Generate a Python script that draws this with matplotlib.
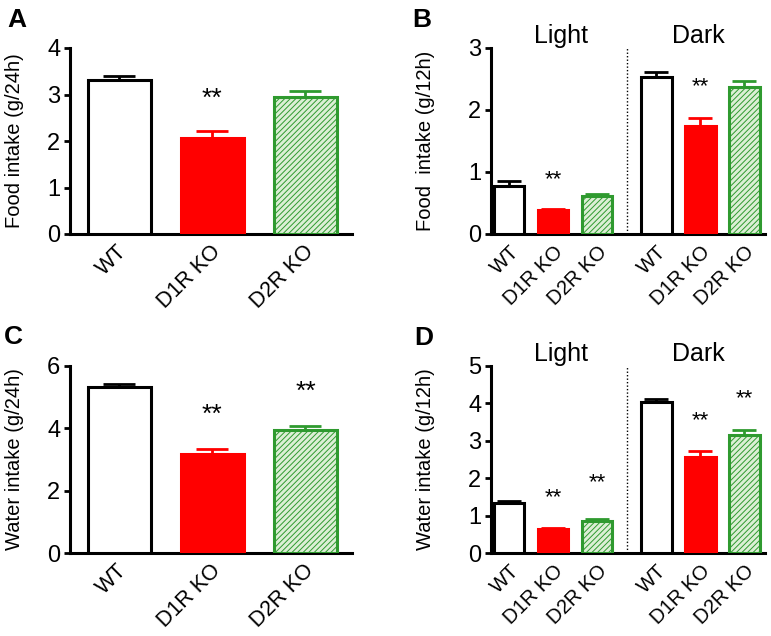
import matplotlib
matplotlib.use("Agg")
import matplotlib.pyplot as plt
import matplotlib.transforms as mtransforms
import numpy as np

plt.rcParams['font.family'] = ['Liberation Sans', 'DejaVu Sans']
plt.rcParams['hatch.linewidth'] = 0.7

# ---------------- data ----------------
genotypes = ["WT", "D1R KO", "D2R KO"]
phases = ["Light", "Dark"]

food24_mean = [3.31, 2.07, 2.95]
food24_err = [0.08, 0.15, 0.13]
food24_sig = ["", "**", ""]
food24_sig_y = [None, 2.90, None]

food12_light_mean = [0.77, 0.38, 0.61]
food12_light_err = [0.08, 0.03, 0.035]
food12_dark_mean = [2.54, 1.74, 2.37]
food12_dark_err = [0.07, 0.13, 0.10]
food12_light_sig = ["", "**", ""]
food12_light_sig_y = [None, 0.87, None]
food12_dark_sig = ["", "**", ""]
food12_dark_sig_y = [None, 2.38, None]

water24_mean = [5.33, 3.17, 3.96]
water24_err = [0.09, 0.16, 0.11]
water24_sig = ["", "**", "**"]
water24_sig_y = [None, 4.43, 5.16]

water12_light_mean = [1.33, 0.64, 0.86]
water12_light_err = [0.06, 0.04, 0.05]
water12_dark_mean = [4.03, 2.58, 3.15]
water12_dark_err = [0.08, 0.15, 0.14]
water12_light_sig = ["", "**", "**"]
water12_light_sig_y = [None, 1.47, 1.87]
water12_dark_sig = ["", "**", "**"]
water12_dark_sig_y = [None, 3.54, 4.13]

# ---------------- styles ----------------
GREEN = "#2f9a2f"
styles = [
    dict(facecolor="white", edgecolor="black", hatch=None, ecolor="black"),
    dict(facecolor="#ff0000", edgecolor="#ff0000", hatch=None, ecolor="#ff0000"),
    dict(facecolor="#dcefd5", edgecolor=GREEN, hatch="//////", ecolor=GREEN),
]

W, H = 771, 636
fig = plt.figure(figsize=(W / 100, H / 100), dpi=100)


def px_axes(x0, y_top, x1, y_bottom):
    return fig.add_axes([x0 / W, 1 - y_bottom / H, (x1 - x0) / W, (y_bottom - y_top) / H])


def style_axes(ax, ymax, yticks, ylabel, label_x, xpad):
    ax.set_ylim(0, ymax)
    ax.set_yticks(yticks)
    for s in ["top", "right"]:
        ax.spines[s].set_visible(False)
    for s in ["left", "bottom"]:
        ax.spines[s].set_linewidth(2.2)
    ax.tick_params(axis="y", length=4, width=2, pad=3, labelsize=17)
    ax.tick_params(axis="x", length=0, pad=xpad)
    ax.set_ylabel(ylabel, fontsize=14.5)
    ax.yaxis.set_label_coords(label_x, 0.5)


def draw_bars(ax, pos, means, errs, capsize, width):
    for i, (x, m, e) in enumerate(zip(pos, means, errs)):
        st = styles[i % 3]
        ax.errorbar([x], [m], yerr=[[0], [e]], fmt="none", ecolor=st["ecolor"],
                    elinewidth=2, capsize=capsize, capthick=2, zorder=2)
        ax.bar([x], [m], width=width, color=st["facecolor"], edgecolor=st["edgecolor"],
               hatch=st["hatch"], linewidth=2.2, zorder=3)


def draw_stars(ax, pos, sigs, ys, size):
    for x, s, y in zip(pos, sigs, ys):
        if s:
            ax.text(x, y, s, ha="center", va="center", fontsize=size)


def set_xlabels(ax, pos, labels, size):
    ax.set_xticks(pos)
    ax.set_xticklabels(labels, rotation=45, ha="right", va="top",
                       rotation_mode="anchor", fontsize=size)


# ---------------- Panel A ----------------
axA = px_axes(70, 48, 352, 234)
posA = np.arange(3)
draw_bars(axA, posA, food24_mean, food24_err, capsize=11.5, width=0.68)
draw_stars(axA, posA, food24_sig, food24_sig_y, 19)
axA.set_xlim(-0.53, 2.5)
style_axes(axA, 4, [0, 1, 2, 3, 4], "Food intake (g/24h)", -0.163, 5)
set_xlabels(axA, posA - 0.03, genotypes, 15.5)

# ---------------- Panel C ----------------
axC = px_axes(70, 366, 352, 553)
draw_bars(axC, posA, water24_mean, water24_err, capsize=11.5, width=0.68)
draw_stars(axC, posA, water24_sig, water24_sig_y, 19)
axC.set_xlim(-0.53, 2.5)
style_axes(axC, 6, [0, 2, 4, 6], "Water intake (g/24h)", -0.163, 5)
set_xlabels(axC, posA - 0.03, genotypes, 15.5)

# ---------------- Panels B and D ----------------
posL = np.arange(3)
posD = np.arange(3) + 3.35
sep_x = 2.68


def phase_panel(ax, lmean, lerr, dmean, derr, lsig, lsy, dsig, dsy, ymax, yticks, ylabel):
    draw_bars(ax, posL, lmean, lerr, capsize=8.6, width=0.70)
    draw_bars(ax, posD, dmean, derr, capsize=8.6, width=0.70)
    draw_stars(ax, posL, lsig, lsy, 16)
    draw_stars(ax, posD, dsig, dsy, 16)
    ax.axvline(sep_x, color="black", linestyle=(0, (1, 1.5)), linewidth=1.0, zorder=1)
    ax.set_xlim(-0.41, 5.82)
    style_axes(ax, ymax, yticks, ylabel, -0.204, 6)
    set_xlabels(ax, np.concatenate([posL, posD]), genotypes * 2, 14.5)
    trans = mtransforms.blended_transform_factory(ax.transData, ax.transAxes)
    ax.text(posL.mean() + 0.18, 1.027, phases[0], transform=trans, ha="center",
            va="baseline", fontsize=18)
    ax.text(posD.mean() - 0.05, 1.027, phases[1], transform=trans, ha="center",
            va="baseline", fontsize=18)


axB = px_axes(491, 48, 765, 234)
phase_panel(axB, food12_light_mean, food12_light_err, food12_dark_mean, food12_dark_err,
            food12_light_sig, food12_light_sig_y, food12_dark_sig, food12_dark_sig_y,
            3, [0, 1, 2, 3], "Food  intake (g/12h)")

axD = px_axes(491, 366, 765, 553)
phase_panel(axD, water12_light_mean, water12_light_err, water12_dark_mean, water12_dark_err,
            water12_light_sig, water12_light_sig_y, water12_dark_sig, water12_dark_sig_y,
            5, [0, 1, 2, 3, 4, 5], "Water intake (g/12h)")

# ---------------- panel letters ----------------
for lab, x, y in [("A", 7, 8), ("B", 412, 8), ("C", 4, 325), ("D", 414, 326)]:
    fig.text(x / W, 1 - y / H, lab, fontsize=19, fontweight="bold", ha="left", va="top")

fig.savefig("out.png", dpi=100)
